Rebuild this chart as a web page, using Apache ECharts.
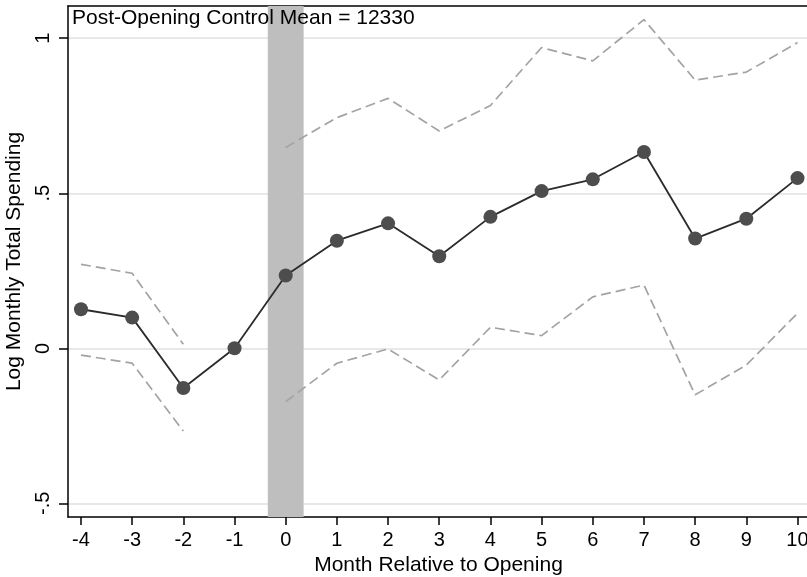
<!DOCTYPE html>
<html>
<head>
<meta charset="utf-8">
<script src="https://cdn.jsdelivr.net/npm/echarts@6/dist/echarts.min.js"></script>
<style>
  html, body { margin: 0; padding: 0; background: #fff; }
  #chart { width: 807px; height: 577px; }
</style>
</head>
<body>
<div id="chart"></div>
<script>
// event-study estimates
var months = [-4, -3, -2, -1, 0, 1, 2, 3, 4, 5, 6, 7, 8, 9, 10];
var coef = [0.126, 0.099, -0.128, 0, 0.235, 0.347, 0.403, 0.297, 0.424, 0.507, 0.545, 0.633, 0.354, 0.418, 0.549];
var upperCI = [0.271, 0.242, 0.013, null, 0.648, 0.744, 0.806, 0.701, 0.783, 0.970, 0.927, 1.060, 0.865, 0.891, 0.986];
var lowerCI = [-0.022, -0.048, -0.267, null, -0.172, -0.048, -0.002, -0.102, 0.068, 0.041, 0.166, 0.204, -0.150, -0.054, 0.113];
var yTicks = [-0.5, 0, 0.5, 1];
var openingBand = [-0.35, 0.35];
var noteText = 'Post-Opening Control Mean = 12330';

var FONT = '"Liberation Sans", Arial, sans-serif';

function pairs(ys) {
    return months.map(function (m, i) { return [m, ys[i]]; });
}
function stataNum(v) {
    return String(v).replace(/^(-?)0\./, '$1.');
}

var chart = echarts.init(document.getElementById('chart'), null, {renderer: 'canvas'});

var option = {
    animation: false,
    backgroundColor: '#fff',
    textStyle: {fontFamily: FONT},
    grid: {left: 68, right: -2, top: 6, bottom: 60, containLabel: false, outerBoundsMode: 'none'},
    graphic: [{
        type: 'text',
        left: 72,
        top: 8,
        z: 100,
        style: {text: noteText, fill: '#000', font: '21px ' + FONT}
    }],
    xAxis: [{
        type: 'value',
        min: -4.254,
        max: 10.225,
        name: 'Month Relative to Opening',
        nameLocation: 'middle',
        nameGap: 36,
        nameTextStyle: {fontSize: 21, color: '#000', fontFamily: FONT},
        axisLine: {show: true, onZero: false, lineStyle: {color: '#000', width: 1.5}},
        axisTick: {show: true, length: 8, customValues: months, lineStyle: {color: '#000', width: 1.5}},
        axisLabel: {customValues: months, margin: 13, fontSize: 20, color: '#000', fontFamily: FONT},
        splitLine: {show: false}
    }, {
        type: 'value',
        position: 'top',
        min: -4.254,
        max: 10.225,
        axisLine: {show: true, onZero: false, lineStyle: {color: '#000', width: 1.5}},
        axisTick: {show: false},
        axisLabel: {show: false},
        splitLine: {show: false}
    }],
    yAxis: {
        type: 'value',
        min: -0.544,
        max: 1.104,
        name: 'Log Monthly Total Spending',
        nameLocation: 'middle',
        nameGap: 31,
        nameRotate: 90,
        nameTextStyle: {fontSize: 21, color: '#000', fontFamily: FONT},
        axisLine: {show: true, onZero: false, lineStyle: {color: '#000', width: 1.5}},
        axisTick: {show: true, length: 9, customValues: yTicks, lineStyle: {color: '#000', width: 1.5}},
        axisLabel: {
            customValues: yTicks, rotate: 90, margin: 15, fontSize: 20, color: '#000', fontFamily: FONT,
            formatter: stataNum
        },
        splitLine: {show: true, lineStyle: {color: '#e0e0e0', width: 1.5}}
    },
    series: [{
        // shaded opening month
        type: 'line',
        data: [],
        z: 1,
        silent: true,
        markArea: {
            silent: true,
            itemStyle: {color: '#bebebe', opacity: 1},
            data: [[{xAxis: openingBand[0]}, {xAxis: openingBand[1]}]]
        }
    }, {
        name: 'upper',
        type: 'line',
        data: pairs(upperCI),
        z: 3,
        showSymbol: false,
        connectNulls: false,
        lineStyle: {color: '#a3a3a3', width: 1.7, type: [10, 5]}
    }, {
        name: 'lower',
        type: 'line',
        data: pairs(lowerCI),
        z: 3,
        showSymbol: false,
        connectNulls: false,
        lineStyle: {color: '#a3a3a3', width: 1.7, type: [10, 5]}
    }, {
        name: 'coef',
        type: 'line',
        data: pairs(coef),
        z: 4,
        symbol: 'circle',
        symbolSize: 14,
        itemStyle: {color: '#4d4d4d'},
        lineStyle: {color: '#2b2b2b', width: 1.8}
    }]
};

chart.setOption(option);
</script>
</body>
</html>
